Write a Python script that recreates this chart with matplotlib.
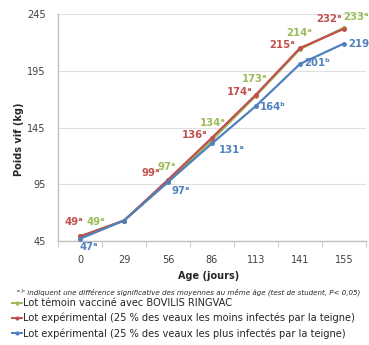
import matplotlib
matplotlib.use("Agg")
import matplotlib.pyplot as plt
from matplotlib.lines import Line2D
import numpy as np

ages = ["0", "29", "56", "86", "113", "141", "155"]
green_vals = [49, 63, 97, 134, 173, 214, 233]
red_vals = [49, 63, 99, 136, 174, 215, 232]
blue_vals = [47, 63, 97, 131, 164, 201, 219]

# labelled points: (index, value, letter)
green_labels = [(0, 49, "a"), (2, 97, "a"), (3, 134, "a"), (4, 173, "a"), (5, 214, "a"), (6, 233, "a")]
red_labels = [(0, 49, "a"), (2, 99, "a"), (3, 136, "a"), (4, 174, "a"), (5, 215, "a"), (6, 232, "a")]
blue_labels = [(0, 47, "a"), (2, 97, "a"), (3, 131, "a"), (4, 164, "b"), (5, 201, "b"), (6, 219, "b")]

legend_names = [
    "Lot témoin vacciné avec BOVILIS RINGVAC",
    "Lot expérimental (25 % des veaux les moins infectés par la teigne)",
    "Lot expérimental (25 % des veaux les plus infectés par la teigne)",
]

GREEN = "#9BBB59"
RED = "#C0504D"
BLUE = "#4F81BD"

fig = plt.figure(figsize=(3.69, 3.45), dpi=100)
ax = fig.add_axes([58 / 369, 1 - 241 / 345, (366 - 58) / 369, (241 - 14) / 345])

x = np.arange(len(ages))
ax.plot(x, green_vals, color=GREEN, lw=1.6, marker="o", ms=2.5, zorder=3)
ax.plot(x, red_vals, color=RED, lw=1.6, marker="o", ms=2.5, zorder=4)
ax.plot(x, blue_vals, color=BLUE, lw=1.6, marker="o", ms=2.5, zorder=5)

ax.set_xlim(-0.5, 6.5)
ax.set_ylim(45, 245)
ax.set_yticks([45, 95, 145, 195, 245])
ax.set_xticks(x)
ax.set_xticklabels(ages)
ax.set_xticks(np.arange(-0.5, 7, 1), minor=True)
ax.tick_params(axis="x", which="major", length=0, pad=10, labelsize=7, labelcolor="#404040")
ax.tick_params(axis="x", which="minor", length=4, color="#BFBFBF", direction="out")
ax.tick_params(axis="y", length=0, pad=9, labelsize=7, labelcolor="#404040")
ax.grid(axis="y", color="#E0E0E0", lw=0.8)
ax.set_axisbelow(True)
for s in ["top", "right"]:
    ax.spines[s].set_visible(False)
ax.spines["left"].set_color("#BFBFBF")
ax.spines["bottom"].set_color("#BFBFBF")
ax.spines["left"].set_linewidth(1.0)
ax.spines["bottom"].set_linewidth(1.0)

ax.set_ylabel("Poids vif (kg)", fontsize=7, fontweight="bold", color="#262626")
ax.yaxis.set_label_coords(-0.11, 0.45)
ax.set_xlabel("Age (jours)", fontsize=7, fontweight="bold", color="#262626")
ax.xaxis.set_label_coords(0.49, -0.13)

fs = 7.3
sup = {"a": "ᵃ", "b": "ᵇ"}
# offsets in pixels (dx, dy, ha)
green_off = [(16, 14, "center"), (-1, 15, "center"), (1, 17, "center"), (-1, 17, "center"), (-1, 16, "center"), (12, 11, "center")]
red_off = [(-6, 14, "center"), (-8, 7, "right"), (-4, 3, "right"), (-3, 3, "right"), (-5, 3, "right"), (-2, 10, "right")]
blue_off = [(9, -8, "center"), (3, -9, "left"), (7, -7, "left"), (4, -1, "left"), (4, 1, "left"), (4, 0, "left")]

for labels, offs, col in [(green_labels, green_off, GREEN), (red_labels, red_off, RED), (blue_labels, blue_off, BLUE)]:
    for (i, v, l), (dx, dy, ha) in zip(labels, offs):
        ax.annotate(f"{v}{sup[l]}", (i, v), xytext=(dx, dy), textcoords="offset pixels",
                    ha=ha, va="center", fontsize=fs, fontweight="bold", color=col,
                    annotation_clip=False, zorder=6)

fig.text(0.51, 1 - 292 / 345,
         "ᵃ·ᵇ indiquent une différence significative des moyennes au même âge (test de student, P< 0,05)",
         ha="center", va="center", fontsize=5.1, style="italic", color="#262626")

handles = [Line2D([], [], color=c, lw=1.4, marker="o", ms=2) for c in (GREEN, RED, BLUE)]
fig.legend(handles, legend_names, loc="upper left", bbox_to_anchor=(12 / 369, 1 - 298 / 345),
           frameon=False, fontsize=7.15, handlelength=1.0, handletextpad=0.1,
           labelspacing=0.5, borderaxespad=0, borderpad=0, labelcolor="#262626")

fig.savefig("out.png", dpi=100)
